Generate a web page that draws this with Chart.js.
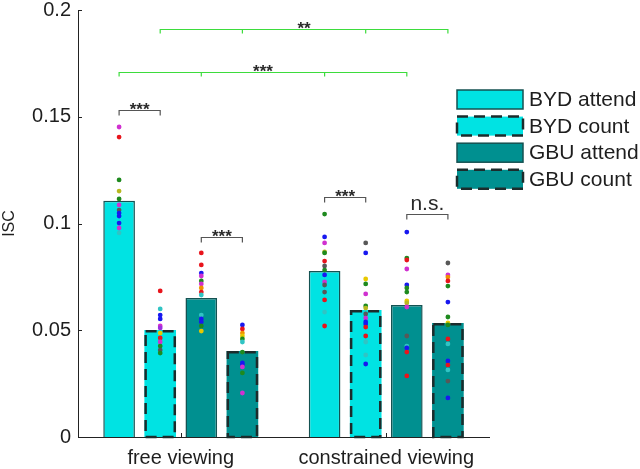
<!DOCTYPE html>
<html>
<head>
<meta charset="utf-8">
<script src="https://cdn.jsdelivr.net/npm/chart.js@4"></script>
<style>
  html, body { margin: 0; padding: 0; background: #fff; }
  #isc { display: block; }
</style>
</head>
<body>
<canvas id="isc" width="640" height="469"></canvas>
<script>
// categories and series
const groups = ['free viewing', 'constrained viewing'];
const seriesNames = ['BYD attend', 'BYD count', 'GBU attend', 'GBU count'];

// bar heights (mean ISC), [free, constrained]
const bydAttend = [0.1107, 0.0778];
const bydCount = [0.0501, 0.0595];
const gbuAttend = [0.0651, 0.0618];
const gbuCount = [0.0403, 0.0534];

// individual subject dots, [free, constrained], colour keys in matching strings
const bydAttendDots = [
  [0.1452, 0.1405, 0.1204, 0.1152, 0.1115, 0.1087, 0.1063, 0.1049, 0.1035, 0.1002, 0.0979, 0.0956],
  [0.1044, 0.0937, 0.0909, 0.0867, 0.0862, 0.0824, 0.0801, 0.0782, 0.0759, 0.0726, 0.0712, 0.0679, 0.0642, 0.0585, 0.0520]
];
const bydAttendCols = ['mrgogmkbbbmc', 'gbmogrkgbmkkrcr'];
const bydCountDots = [
  [0.0684, 0.0600, 0.0571, 0.0553, 0.0520, 0.0511, 0.0487, 0.0464, 0.0445, 0.0426, 0.0407, 0.0393],
  [0.0909, 0.0862, 0.0740, 0.0717, 0.0670, 0.0614, 0.0604, 0.0576, 0.0557, 0.0539, 0.0529, 0.0515, 0.0473, 0.0445, 0.0384, 0.0342]
];
const bydCountCols = ['rcbbmpyrmgkg', 'kbygmgokmbbrrccb'];
const gbuAttendDots = [
  [0.0862, 0.0806, 0.0768, 0.0754, 0.0731, 0.0717, 0.0698, 0.0679, 0.0665, 0.0571, 0.0553, 0.0539, 0.0520, 0.0496],
  [0.0960, 0.0838, 0.0829, 0.0787, 0.0712, 0.0698, 0.0679, 0.0637, 0.0628, 0.0609, 0.0473, 0.0426, 0.0417, 0.0398, 0.0286]
];
const gbuAttendCols = ['rrbmgmarccbbgy', 'bgrmbggyomkcbrr'];
const gbuCountDots = [
  [0.0525, 0.0506, 0.0487, 0.0473, 0.0459, 0.0445, 0.0398, 0.0347, 0.0337, 0.0328, 0.0300, 0.0206],
  [0.0815, 0.0759, 0.0749, 0.0731, 0.0707, 0.0632, 0.0562, 0.0534, 0.0525, 0.0459, 0.0436, 0.0356, 0.0337, 0.0314, 0.0262, 0.0183]
];
const gbuCountCols = ['braygcgbbmgm', 'kmargbgygrcbrckb'];

// y axis tick labels
const yTicks = ['0', '0.05', '0.1', '0.15', '0.2'];

// significance brackets: [series, group] pairs joined, level, label
const brackets = [
  { ends: [[1, 0], [3, 0], [1, 1], [3, 1]], level: 0.1911, label: '**', color: '#3ddc3d' },
  { ends: [[0, 0], [2, 0], [0, 1], [2, 1]], level: 0.1710, label: '***', color: '#3ddc3d' },
  { ends: [[0, 0], [1, 0]], level: 0.1532, label: '***', color: '#555' },
  { ends: [[2, 0], [3, 0]], level: 0.0937, label: '***', color: '#555' },
  { ends: [[0, 1], [1, 1]], level: 0.1124, label: '***', color: '#555' },
  { ends: [[2, 1], [3, 1]], level: 0.1044, label: 'n.s.', color: '#555' }
];

const palette = {
  r: '#e8141c', g: '#1e8a1e', b: '#1818f0', m: '#d030d0', p: '#9a30e0',
  o: '#b8b820', y: '#e8c800', c: '#30c4c4', k: '#585858', a: '#f09000'
};
const cyan = '#00e3e3';
const teal = '#009090';
const edge = '#145252';
const dashEdge = '#1c2c2c';
const txt = '#1e1e1e';
const FONT = "'Liberation Sans', Arial, sans-serif";

const barValues = [bydAttend, bydCount, gbuAttend, gbuCount];
const barFill = [cyan, cyan, teal, teal];
const dashed = [false, true, false, true];
const dotSets = [bydAttendDots, bydCountDots, gbuAttendDots, gbuCountDots];
const dotCols = [bydAttendCols, bydCountCols, gbuAttendCols, gbuCountCols];

const barDatasets = seriesNames.map((name, i) => ({
  label: name,
  data: barValues[i],
  backgroundColor: barFill[i],
  borderColor: edge,
  borderWidth: dashed[i] ? 0 : 1.5,
  borderSkipped: 'bottom',
  categoryPercentage: 0.8,
  barPercentage: 0.77
}));

// bar centres within a category (4 slots of 0.2 of a category, categoryPercentage 0.8)
const slotOffset = [-0.3, -0.1, 0.1, 0.3];
const dotDatasets = [];
dotSets.forEach((sets, s) => {
  sets.forEach((vals, g) => {
    dotDatasets.push({
      type: 'scatter',
      label: seriesNames[s] + ' subjects',
      parsing: false,
      order: -1,
      data: vals.map(v => ({ x: g + slotOffset[s], y: v })),
      pointRadius: 2.4,
      pointBorderWidth: 0,
      pointBackgroundColor: dotCols[s][g].split('').map(k => palette[k]),
      pointHoverRadius: 2.4
    });
  });
});

const extras = {
  id: 'extras',
  afterDatasetDraw(chart, args) {
    const i = args.index;
    if (i > 3 || !dashed[i]) return;
    const c = chart.ctx;
    c.save();
    c.setLineDash([11, 6]);
    c.lineWidth = 2.5;
    c.strokeStyle = dashEdge;
    args.meta.data.forEach(bar => {
      const p = bar.getProps(['x', 'y', 'base', 'width'], true);
      c.strokeRect(p.x - p.width / 2 + 1.25, p.y + 1.25, p.width - 2.5, p.base - p.y - 1.25);
    });
    c.restore();
  },
  afterDraw(chart) {
    const c = chart.ctx;
    const y = chart.scales.y, x = chart.scales.x;
    const area = chart.chartArea;
    c.save();
    // small inward ticks
    c.strokeStyle = '#222';
    c.lineWidth = 1;
    c.beginPath();
    yTicks.forEach(t => {
      const py = Math.round(y.getPixelForValue(parseFloat(t))) + 0.5;
      c.moveTo(area.left, py); c.lineTo(area.left + 4, py);
    });
    groups.forEach((g, gi) => {
      const px = Math.round(x.getPixelForValue(gi)) + 0.5;
      c.moveTo(px, area.bottom); c.lineTo(px, area.bottom - 4);
    });
    c.stroke();

    // significance brackets
    const barX = (s, g) => chart.getDatasetMeta(s).data[g].x;
    brackets.forEach(b => {
      const py = Math.round(y.getPixelForValue(b.level)) + 0.5;
      const xs = b.ends.map(e => barX(e[0], e[1]));
      const tick = b.color === '#555' ? 5 : 4;
      c.strokeStyle = b.color;
      c.lineWidth = 1.2;
      c.beginPath();
      c.moveTo(xs[0], py + tick);
      c.lineTo(xs[0], py);
      c.lineTo(xs[xs.length - 1], py);
      c.lineTo(xs[xs.length - 1], py + tick);
      xs.slice(1, -1).forEach(px => { c.moveTo(px, py); c.lineTo(px, py + tick); });
      c.stroke();
      const mid = (xs[0] + xs[xs.length - 1]) / 2;
      c.fillStyle = '#2a2a2a';
      c.textAlign = 'center';
      c.textBaseline = 'alphabetic';
      if (b.label === 'n.s.') {
        c.font = '21px ' + FONT;
        c.fillText(b.label, mid, py - 5);
      } else {
        c.font = 'bold 17px ' + FONT;
        c.fillText(b.label, mid, py + 4);
      }
    });

    // legend
    const lx = 457, lw = 66, lh = 19;
    seriesNames.forEach((name, i) => {
      const top = 90 + i * 26.6;
      c.fillStyle = barFill[i];
      c.fillRect(lx, top, lw, lh);
      c.strokeStyle = dashed[i] ? dashEdge : edge;
      c.lineWidth = dashed[i] ? 2.5 : 1.5;
      c.setLineDash(dashed[i] ? [11, 6] : []);
      c.strokeRect(lx, top, lw, lh);
      c.setLineDash([]);
      c.fillStyle = txt;
      c.font = '21px ' + FONT;
      c.textAlign = 'left';
      c.textBaseline = 'middle';
      c.fillText(name, lx + 72, top + lh / 2 + 1);
    });
    c.restore();
  }
};

const ctx = document.getElementById('isc').getContext('2d');
const iscChart = new Chart(ctx, {
  type: 'bar',
  data: { labels: groups, datasets: [...barDatasets, ...dotDatasets] },
  options: {
    responsive: false,
    animation: false,
    events: [],
    layout: { padding: { top: 10, right: 151, left: 0, bottom: 0 } },
    plugins: { legend: { display: false }, tooltip: { enabled: false } },
    scales: {
      x: {
        type: 'category',
        offset: true,
        grid: { display: false, drawTicks: false },
        border: { display: true, color: '#222', width: 1 },
        ticks: { color: txt, font: { family: FONT, size: 20 }, padding: 9, maxRotation: 0 },
        afterFit: s => { s.height = 32; s.paddingLeft = 0; s.paddingRight = 0; }
      },
      y: {
        min: 0,
        max: 0.2,
        grid: { display: false, drawTicks: false },
        border: { display: true, color: '#222', width: 1 },
        ticks: {
          stepSize: 0.05,
          padding: 7,
          color: txt,
          font: { family: FONT, size: 20 },
          callback: (v, i) => yTicks[i]
        },
        title: { display: true, text: 'ISC', color: txt, font: { family: FONT, size: 16 }, padding: 0 },
        afterFit: s => { s.width = 78; s.paddingTop = 0; s.paddingBottom = 0; }
      }
    }
  },
  plugins: [extras]
});
</script>
</body>
</html>
